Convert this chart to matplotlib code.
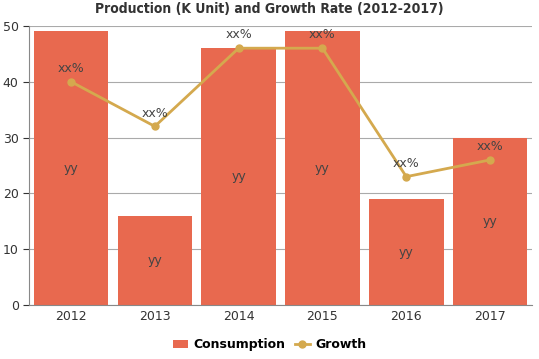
import matplotlib
matplotlib.use("Agg")
import matplotlib.pyplot as plt

years = ["2012", "2013", "2014", "2015", "2016", "2017"]
consumption = [49, 16, 46, 49, 19, 30]
growth = [40, 32, 46, 46, 23, 26]
bar_label = "yy"
point_label = "xx%"

bar_color = "#e8694f"
line_color = "#d4a94e"

fig = plt.figure(figsize=(5.39, 3.59), dpi=100)
ax = fig.add_axes([0.054, 0.150, 0.933, 0.778])

x = range(len(years))
bars = ax.bar(x, consumption, width=0.89, color=bar_color, label="Consumption", zorder=2)
line, = ax.plot(x, growth, "o-", color=line_color, linewidth=2, markersize=5, label="Growth", zorder=3)

for i, v in enumerate(consumption):
    ax.text(i, v / 2, bar_label, ha="center", va="center", fontsize=9, color="#444444", zorder=4)
for i, v in enumerate(growth):
    ax.text(i, v + 1.2, point_label, ha="center", va="bottom", fontsize=9, color="#444444", zorder=4)

ax.set_xlim(-0.5, len(years) - 0.5)
ax.set_ylim(0, 50)
ax.set_yticks(range(0, 51, 10))
ax.set_xticks(list(x))
ax.set_xticklabels(years)
ax.tick_params(labelsize=9, colors="#333333", length=4)
ax.tick_params(axis="x", length=0)
ax.grid(axis="y", color="#aaaaaa", linewidth=0.8, zorder=0)
ax.set_axisbelow(True)
for s in ["top", "right"]:
    ax.spines[s].set_visible(False)
for s in ["left", "bottom"]:
    ax.spines[s].set_color("#888888")

fig.suptitle("Production (K Unit) and Growth Rate (2012-2017)", y=0.995,
             fontsize=10, fontweight="bold", fontstretch="condensed", color="#333333")
fig.legend([bars, line], ["Consumption", "Growth"], loc="lower center", ncol=2,
           frameon=False, prop={"size": 9, "weight": "bold"},
           bbox_to_anchor=(0.5, -0.01), handlelength=1.2, columnspacing=0.8,
           handletextpad=0.4)

fig.savefig("out.png", dpi=100)
